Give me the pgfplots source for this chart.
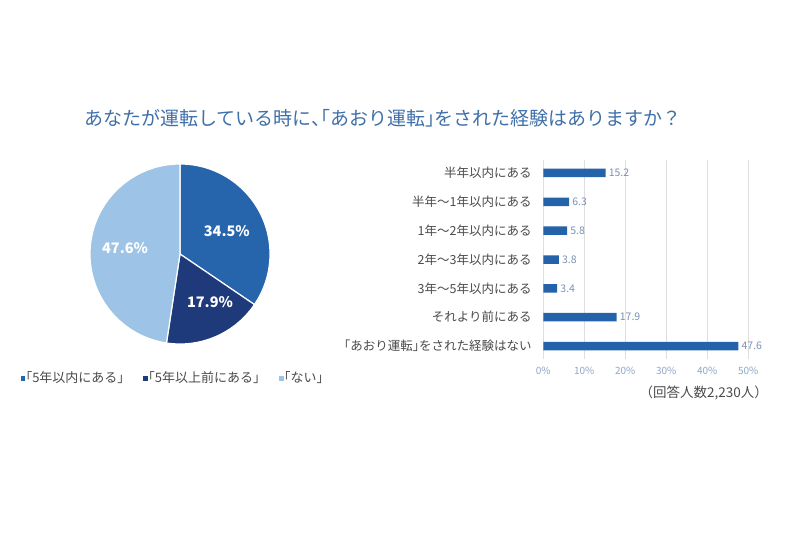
\documentclass[border=0pt]{standalone}
\usepackage{fontspec}
\setmainfont{Noto Sans CJK JP}
\usepackage{pgfplots}
\pgfplotsset{compat=1.18}
\usepackage{pgfplotstable}
\definecolor{cmid}{HTML}{2664AC}
\definecolor{cdark}{HTML}{1E3A7A}
\definecolor{clight}{HTML}{9DC3E6}
\definecolor{cbar}{HTML}{2462AA}
\definecolor{ctitle}{HTML}{3F6FA8}
\definecolor{ctext}{HTML}{4A4A4A}
\definecolor{ctick}{HTML}{8FA5C6}
\definecolor{cval}{HTML}{7A90B3}
\definecolor{cgrid}{HTML}{DEDEDE}

% idx 6 = top row
\pgfplotstableread{
idx value
6 15.2
5 6.3
4 5.8
3 3.8
2 3.4
1 17.9
0 47.6
}\bardata

\newcommand{\hw}[1]{{\addfontfeature{RawFeature=+halt}#1}}

% pie values (percent)
\def\pA{34.5}
\def\pB{17.9}
\def\pC{47.6}
\pgfmathsetmacro{\sA}{90}
\pgfmathsetmacro{\sB}{\sA-\pA*3.6}
\pgfmathsetmacro{\sC}{\sB-\pB*3.6}
\pgfmathsetmacro{\sD}{\sC-\pC*3.6}

\begin{document}%
\begin{tikzpicture}
\useasboundingbox (0pt,0pt) rectangle (800pt,-534pt);
\node[font=\fontsize{19}{21}\selectfont, text=ctitle, inner sep=0pt] at (383pt,-118pt)
  {あなたが運転している時に\hw{、「}あおり運転\hw{」}をされた経験はありますか？};

\begin{axis}[at={(90pt,-344pt)}, anchor=south west, hide axis, scale only axis,
  width=180pt, height=180pt, xmin=-1, xmax=1, ymin=-1, ymax=1, clip=false,
  legend columns=3,
  legend style={at={(0.458,-0.19)}, anchor=center, draw=none, fill=none,
    font=\fontsize{13}{15}\selectfont, text=ctext,
    /tikz/every even column/.append style={column sep=12pt},
    inner sep=0pt, nodes={inner sep=1pt}},
  legend cell align=left]
\fill[cmid, draw=white, line width=1.2pt] (axis cs:0,0) -- +(\sA:90pt) arc[start angle=\sA, end angle=\sB, radius=90pt] -- cycle;
\fill[cdark, draw=white, line width=1.2pt] (axis cs:0,0) -- +(\sB:90pt) arc[start angle=\sB, end angle=\sC, radius=90pt] -- cycle;
\fill[clight, draw=white, line width=1.2pt] (axis cs:0,0) -- +(\sC:90pt) arc[start angle=\sC, end angle=\sD, radius=90pt] -- cycle;
\node[text=white, font=\fontsize{14.5}{16}\selectfont\bfseries] at (axis cs:0.52,0.256) {\pA\%};
\node[text=white, font=\fontsize{14.5}{16}\selectfont\bfseries] at (axis cs:0.333,-0.53) {\pB\%};
\node[text=white, font=\fontsize{14.5}{16}\selectfont\bfseries] at (axis cs:-0.61,0.063) {\pC\%};
\addlegendimage{legend image code/.code={\fill[cmid] (0pt,-1.75pt) rectangle (3.5pt,1.75pt);}}
\addlegendentry{\hw{「}5年以内にある」}
\addlegendimage{legend image code/.code={\fill[cdark] (0pt,-1.75pt) rectangle (3.5pt,1.75pt);}}
\addlegendentry{\hw{「}5年以上前にある」}
\addlegendimage{legend image code/.code={\fill[clight] (0pt,-1.75pt) rectangle (3.5pt,1.75pt);}}
\addlegendentry{\hw{「}ない\hw{」}}
\end{axis}

\begin{axis}[at={(543.3pt,-359pt)}, anchor=south west, scale only axis,
  width=205pt, height=199pt, xbar, bar width=8.5pt,
  xmin=0, xmax=50, ymin=-0.45, ymax=6.45,
  ytick={0,...,6},
  yticklabels={「あおり運転\hw{」}をされた経験はない,それより前にある,3年～5年以内にある,2年～3年以内にある,1年～2年以内にある,半年～1年以内にある,半年以内にある},
  xtick={0,10,...,50},
  xticklabel={\pgfmathprintnumber{\tick}\%},
  /pgf/number format/assume math mode=true,
  xmajorgrids, grid style={cgrid, line width=0.8pt},
  axis line style={draw=none}, major tick length=0pt, tick style={draw=none},
  yticklabel style={font=\fontsize{12.5}{14}\selectfont, text=ctext, inner sep=0pt, xshift=-11.5pt},
  xticklabel style={font=\fontsize{10}{12}\selectfont, text=ctick, inner sep=0pt, yshift=-8pt},
  nodes near coords, point meta=explicit symbolic,
  nodes near coords style={font=\fontsize{10.5}{12}\selectfont, text=cval, anchor=west, inner sep=0pt, xshift=3pt},
  clip=false]
\addplot[fill=cbar, draw=none] table[x=value, y=idx, meta=value]{\bardata};
\end{axis}

\node[anchor=east, font=\fontsize{13.5}{15}\selectfont, text=ctext, inner sep=0pt] at (768pt,-393pt) {（回答人数2,230人）};
\end{tikzpicture}%
\end{document}
